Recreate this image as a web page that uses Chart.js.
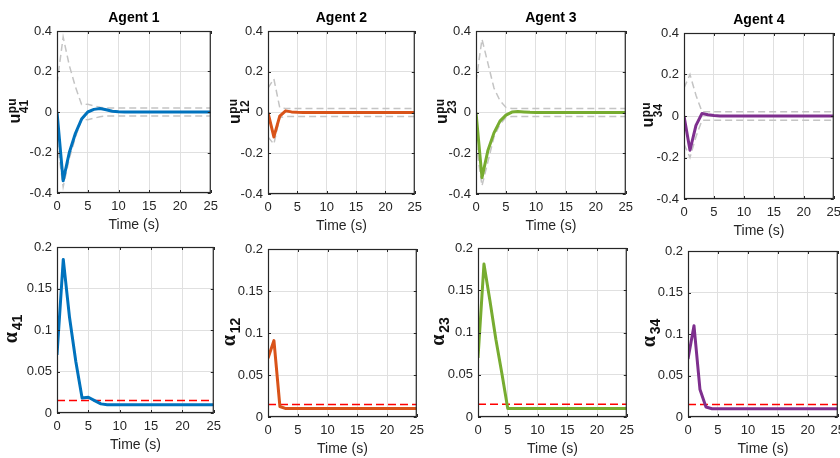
<!DOCTYPE html>
<html>
<head>
<meta charset="utf-8">
<script src="https://cdn.jsdelivr.net/npm/chart.js@4.4.1/dist/chart.umd.min.js"></script>
<style>
html,body{margin:0;padding:0;background:#fff;}
#wrap{position:relative;width:840px;height:458px;overflow:hidden;background:#fff;}
#wrap canvas{position:absolute;}
</style>
</head>
<body>
<div id="wrap"></div>
<script>
// ---------------- DATA ----------------
const TIME = [0,1,2,3,4,5,6,7,8,9,10,11,12,13,14,15,16,17,18,19,20,21,22,23,24,25];
const X_TICKS = [0,5,10,15,20,25];
const U_TICKS = [-0.4,-0.2,0,0.2,0.4];
const ALPHA_TICKS = [0,0.05,0.1,0.15,0.2];
const AGENT_TITLES = ['Agent 1','Agent 2','Agent 3','Agent 4'];
const EDGE_SUBS = ['41','12','23','34'];
const X_LABEL = 'Time (s)';
const ALPHA_THRESHOLD = 0.015;

// Agent 1 (edge 41)
const U41       = [0,-0.34,-0.2,-0.105,-0.035,0,0.013,0.017,0.011,0.004,0.001,0,0,0,0,0,0,0,0,0,0,0,0,0,0,0];
const U41_UPPER = [0.14,0.37,0.23,0.124,0.037,0.038,0.031,0.023,0.02,0.02,0.02,0.02,0.02,0.02,0.02,0.02,0.02,0.02,0.02,0.02,0.02,0.02,0.02,0.02,0.02,0.02];
const U41_LOWER = [-0.14,-0.37,-0.23,-0.124,-0.037,-0.038,-0.031,-0.023,-0.02,-0.02,-0.02,-0.02,-0.02,-0.02,-0.02,-0.02,-0.02,-0.02,-0.02,-0.02,-0.02,-0.02,-0.02,-0.02,-0.02,-0.02];
const ALPHA41   = [0.07,0.185,0.115,0.062,0.018,0.019,0.015,0.011,0.01,0.01,0.01,0.01,0.01,0.01,0.01,0.01,0.01,0.01,0.01,0.01,0.01,0.01,0.01,0.01,0.01,0.01];

// Agent 2 (edge 12)
const U12       = [0,-0.12,-0.018,0.008,0.003,0.001,0,0,0,0,0,0,0,0,0,0,0,0,0,0,0,0,0,0,0,0];
const U12_UPPER = [0.12,0.165,0.024,0.02,0.02,0.02,0.02,0.02,0.02,0.02,0.02,0.02,0.02,0.02,0.02,0.02,0.02,0.02,0.02,0.02,0.02,0.02,0.02,0.02,0.02,0.02];
const U12_LOWER = [-0.12,-0.155,-0.024,-0.02,-0.02,-0.02,-0.02,-0.02,-0.02,-0.02,-0.02,-0.02,-0.02,-0.02,-0.02,-0.02,-0.02,-0.02,-0.02,-0.02,-0.02,-0.02,-0.02,-0.02,-0.02,-0.02];
const ALPHA12   = [0.07,0.091,0.0125,0.01,0.01,0.01,0.01,0.01,0.01,0.01,0.01,0.01,0.01,0.01,0.01,0.01,0.01,0.01,0.01,0.01,0.01,0.01,0.01,0.01,0.01,0.01];

// Agent 3 (edge 23)
const U23       = [0,-0.32,-0.185,-0.1,-0.042,-0.013,0.002,0.005,0.003,0.001,0,0,0,0,0,0,0,0,0,0,0,0,0,0,0,0];
const U23_UPPER = [0.15,0.36,0.24,0.12,0.058,0.025,0.02,0.02,0.02,0.02,0.02,0.02,0.02,0.02,0.02,0.02,0.02,0.02,0.02,0.02,0.02,0.02,0.02,0.02,0.02,0.02];
const U23_LOWER = [-0.15,-0.36,-0.24,-0.12,-0.058,-0.025,-0.02,-0.02,-0.02,-0.02,-0.02,-0.02,-0.02,-0.02,-0.02,-0.02,-0.02,-0.02,-0.02,-0.02,-0.02,-0.02,-0.02,-0.02,-0.02,-0.02];
const ALPHA23   = [0.07,0.181,0.138,0.092,0.052,0.01,0.01,0.01,0.01,0.01,0.01,0.01,0.01,0.01,0.01,0.01,0.01,0.01,0.01,0.01,0.01,0.01,0.01,0.01,0.01,0.01];

// Agent 4 (edge 34)
const U34       = [0,-0.165,-0.045,0.012,0.006,0.002,0,0,0,0,0,0,0,0,0,0,0,0,0,0,0,0,0,0,0,0];
const U34_UPPER = [0.135,0.2,0.1,0.021,0.02,0.02,0.02,0.02,0.02,0.02,0.02,0.02,0.02,0.02,0.02,0.02,0.02,0.02,0.02,0.02,0.02,0.02,0.02,0.02,0.02,0.02];
const U34_LOWER = [-0.135,-0.2,-0.1,-0.021,-0.02,-0.02,-0.02,-0.02,-0.02,-0.02,-0.02,-0.02,-0.02,-0.02,-0.02,-0.02,-0.02,-0.02,-0.02,-0.02,-0.02,-0.02,-0.02,-0.02,-0.02,-0.02];
const ALPHA34   = [0.07,0.11,0.033,0.012,0.01,0.01,0.01,0.01,0.01,0.01,0.01,0.01,0.01,0.01,0.01,0.01,0.01,0.01,0.01,0.01,0.01,0.01,0.01,0.01,0.01,0.01];

const U_SERIES     = [U41, U12, U23, U34];
const U_UPPER      = [U41_UPPER, U12_UPPER, U23_UPPER, U34_UPPER];
const U_LOWER      = [U41_LOWER, U12_LOWER, U23_LOWER, U34_LOWER];
const ALPHA_SERIES = [ALPHA41, ALPHA12, ALPHA23, ALPHA34];

// ---------------- STYLE / LAYOUT ----------------
const COLORS = ['#0072BD','#D95319','#77AC30','#7E2F8E'];
const BOUND_COLOR = '#c4c4c4';
const THRESH_COLOR = '#ff0000';
const GRID_COLOR = '#e0e0e0';
const AXIS_COLOR = '#262626';
const SANS = '"Liberation Sans", Arial, sans-serif';
const SERIF = '"Liberation Serif", "Times New Roman", serif';
// chart areas [left, top, right, bottom]
const TOP_AREAS = [[57,31,212,193],[268,31,416,194],[476,31,627,194],[684,33,835,199]];
const BOT_AREAS = [[57,247,215,413],[268,249,418,417],[478,248,628,417],[688,251,839,417]];
const U_LABEL_OFF = [37.5,28,29,31];
const A_LABEL_OFF = [40,33,34,33];
const PAD_L = 60, PAD_T = 26, PAD_R = 12, PAD_B = 44;

function pts(xs, ys){ return xs.map((x,i)=>({x:x, y:ys[i]})); }

const decorPlugin = {
  id: 'panelDecor',
  afterDraw(chart){
    const cfg = chart.options.plugins.panelDecor;
    const ctx = chart.ctx;
    const {left, top, right, bottom} = chart.chartArea;
    const xs = chart.scales.x, ys = chart.scales.y;
    ctx.save();
    ctx.strokeStyle = AXIS_COLOR; ctx.lineWidth = 1;
    ctx.beginPath();
    X_TICKS.forEach(v=>{
      const p = Math.round(xs.getPixelForValue(v)) + 0.5;
      ctx.moveTo(p, bottom); ctx.lineTo(p, bottom-3);
      ctx.moveTo(p, top); ctx.lineTo(p, top+3);
    });
    cfg.yTicks.forEach(v=>{
      const p = Math.round(ys.getPixelForValue(v)) + 0.5;
      ctx.moveTo(left, p); ctx.lineTo(left+3, p);
      ctx.moveTo(right, p); ctx.lineTo(right-3, p);
    });
    ctx.stroke();
    ctx.lineWidth = 1.2;
    ctx.strokeRect(left+0.5, top+0.5, right-left-1, bottom-top-1);
    if (cfg.title){
      ctx.fillStyle = '#000';
      ctx.font = 'bold 14px ' + SANS;
      ctx.textAlign = 'center'; ctx.textBaseline = 'middle';
      ctx.fillText(cfg.title, (left+right)/2, top-12.5);
    }
    const L = cfg.label;
    ctx.translate(left - L.off, (top+bottom)/2 - 1);
    ctx.rotate(-Math.PI/2);
    ctx.textAlign = 'left'; ctx.textBaseline = 'alphabetic';
    ctx.fillStyle = '#111';
    ctx.font = L.mainFont; const wm = ctx.measureText(L.main).width;
    ctx.font = L.scriptFont;
    const ws = Math.max(L.sup ? ctx.measureText(L.sup).width : 0, ctx.measureText(L.sub).width);
    const x0 = -(wm + L.gap + ws)/2;
    ctx.font = L.mainFont; ctx.fillText(L.main, x0, 0);
    ctx.font = L.scriptFont;
    if (L.sup) ctx.fillText(L.sup, x0 + wm + L.gap, -L.supShift);
    ctx.fillText(L.sub, x0 + wm + L.gap, L.subShift);
    ctx.restore();
  }
};

function makePanel(area, datasets, yMin, yMax, yTicks, title, label){
  const [L,T,R,B] = area;
  const W = R-L, H = B-T;
  const cv = document.createElement('canvas');
  cv.width = W + PAD_L + PAD_R; cv.height = H + PAD_T + PAD_B;
  cv.style.left = (L-PAD_L)+'px'; cv.style.top = (T-PAD_T)+'px';
  cv.style.width = cv.width+'px'; cv.style.height = cv.height+'px';
  document.getElementById('wrap').appendChild(cv);
  new Chart(cv, {
    type: 'line',
    data: { datasets },
    plugins: [decorPlugin],
    options: {
      responsive:false, animation:false, devicePixelRatio:1,
      layout:{padding:{left:0, right:PAD_R, top:PAD_T, bottom:0}},
      elements:{point:{radius:0}, line:{tension:0}},
      plugins:{
        legend:{display:false}, tooltip:{enabled:false}, title:{display:false},
        panelDecor:{yTicks, title, label}
      },
      scales:{
        x:{
          type:'linear', min:TIME[0], max:TIME[TIME.length-1],
          afterBuildTicks:s=>{ s.ticks = X_TICKS.map(v=>({value:v})); },
          afterFit:s=>{ s.height = PAD_B; },
          grid:{color:GRID_COLOR, lineWidth:1, drawTicks:false},
          border:{display:false},
          ticks:{padding:6, color:AXIS_COLOR, font:{family:SANS, size:13}, maxRotation:0, autoSkip:false, callback:v=>String(v)},
          title:{display:true, text:X_LABEL, color:AXIS_COLOR, font:{family:SANS, size:14, lineHeight:1.2}, padding:{top:0, bottom:3}}
        },
        y:{
          type:'linear', min:yMin, max:yMax,
          afterBuildTicks:s=>{ s.ticks = yTicks.map(v=>({value:v})); },
          afterFit:s=>{ s.width = PAD_L; },
          grid:{color:GRID_COLOR, lineWidth:1, drawTicks:false},
          border:{display:false},
          ticks:{padding:5, color:AXIS_COLOR, font:{family:SANS, size:13}, autoSkip:false, callback:v=>String(v)}
        }
      }
    }
  });
}

for (let i=0;i<4;i++){
  makePanel(TOP_AREAS[i], [
    {data:pts(TIME, U_SERIES[i]), borderColor:COLORS[i], borderWidth:3, borderJoinStyle:'round', fill:false},
    {data:pts(TIME, U_UPPER[i]), borderColor:BOUND_COLOR, borderWidth:1.5, borderDash:[7,4], fill:false},
    {data:pts(TIME, U_LOWER[i]), borderColor:BOUND_COLOR, borderWidth:1.5, borderDash:[7,4], fill:false}
  ], -0.4, 0.4, U_TICKS, AGENT_TITLES[i], {
    main:'u', sup:'pu', sub:EDGE_SUBS[i], off:U_LABEL_OFF[i],
    mainFont:'bold 16px '+SANS, scriptFont:'bold 12px '+SANS, gap:0.5, supShift:3.5, subShift:8.5
  });
  makePanel(BOT_AREAS[i], [
    {data:pts(TIME, ALPHA_SERIES[i]), borderColor:COLORS[i], borderWidth:3, borderJoinStyle:'round', fill:false},
    {data:[{x:TIME[0], y:ALPHA_THRESHOLD},{x:TIME[TIME.length-1], y:ALPHA_THRESHOLD}], borderColor:THRESH_COLOR, borderWidth:1.5, borderDash:[8,4], fill:false}
  ], 0, 0.2, ALPHA_TICKS, null, {
    main:'\u03B1', sup:null, sub:EDGE_SUBS[i], off:A_LABEL_OFF[i],
    mainFont:'bold 20px '+SERIF, scriptFont:'bold 14px '+SANS, gap:2, supShift:0, subShift:5
  });
}
</script>
</body>
</html>
